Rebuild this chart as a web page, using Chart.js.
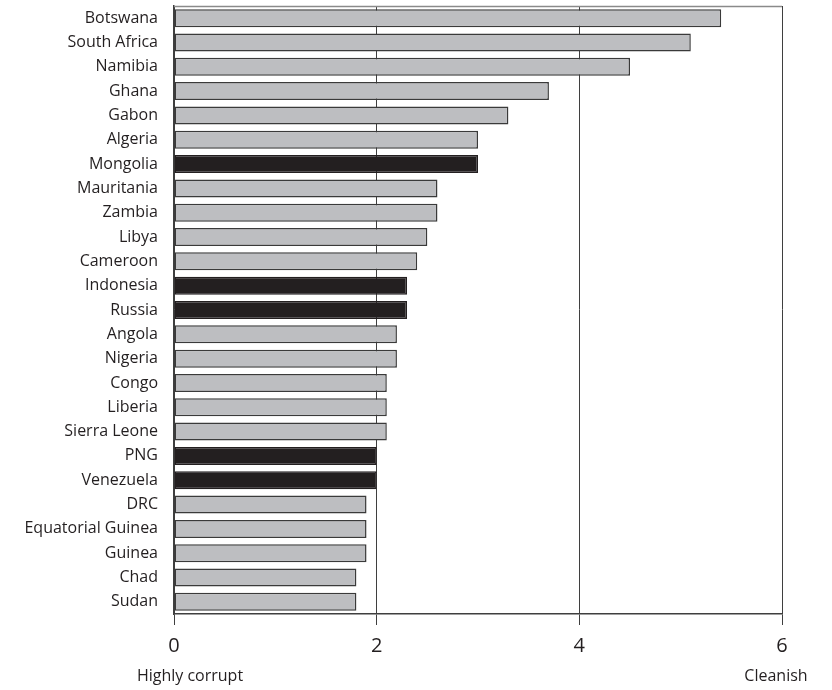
<!DOCTYPE html>
<html>
<head>
<meta charset="utf-8">
<script src="https://cdn.jsdelivr.net/npm/chart.js@4"></script>
<style>
  body { margin: 0; background: #fff; }
  #wrap { width: 832px; height: 690px; }
</style>
</head>
<body>
<div id="wrap"><canvas id="myChart"></canvas></div>
<script>
const countries = ['Botswana', 'South Africa', 'Namibia', 'Ghana', 'Gabon', 'Algeria', 'Mongolia',
  'Mauritania', 'Zambia', 'Libya', 'Cameroon', 'Indonesia', 'Russia', 'Angola', 'Nigeria', 'Congo',
  'Liberia', 'Sierra Leone', 'PNG', 'Venezuela', 'DRC', 'Equatorial Guinea', 'Guinea', 'Chad', 'Sudan']
const scores = [5.4, 5.1, 4.5, 3.7, 3.3, 3.0, 3.0, 2.6, 2.6, 2.5, 2.4, 2.3, 2.3, 2.2, 2.2, 2.1,
  2.1, 2.1, 2.0, 2.0, 1.9, 1.9, 1.9, 1.8, 1.8]
const highlighted = ['Mongolia', 'Indonesia', 'Russia', 'PNG', 'Venezuela']
const xTicks = [0, 2, 4, 6]
const endLabels = ['Highly corrupt', 'Cleanish']

const ink = '#231f20'
const fills = countries.map(c => highlighted.includes(c) ? ink : '#bdbec1')
const edges = countries.map(c => highlighted.includes(c) ? ink : '#3a3a3a')

// the top frame line and the two end captions under the x axis
const frame = {
  id: 'frame',
  afterDraw (chart) {
    const { ctx, chartArea, scales } = chart
    ctx.save()
    ctx.strokeStyle = '#8a8a8a'
    ctx.lineWidth = 1.5
    ctx.beginPath()
    ctx.moveTo(chartArea.left, chartArea.top + 0.5)
    ctx.lineTo(chartArea.right, chartArea.top + 0.5)
    ctx.stroke()
    ctx.fillStyle = ink
    ctx.font = '16px "Open Sans"'
    ctx.textAlign = 'center'
    ctx.textBaseline = 'middle'
    ctx.fillText(endLabels[0], scales.x.getPixelForValue(0) + 16, 676)
    ctx.fillText(endLabels[1], scales.x.getPixelForValue(6) - 6, 676)
    ctx.restore()
  }
}

new Chart(document.getElementById('myChart'), {
  type: 'bar',
  data: {
    labels: countries,
    datasets: [{
      data: scores,
      backgroundColor: fills,
      borderColor: edges,
      borderWidth: 1.5,
      borderSkipped: false,
      barPercentage: 0.74,
      categoryPercentage: 1
    }]
  },
  options: {
    indexAxis: 'y',
    responsive: true,
    maintainAspectRatio: false,
    animation: false,
    layout: { padding: { top: 6, right: 50, bottom: 0, left: 0 } },
    plugins: { legend: { display: false }, tooltip: { enabled: false } },
    scales: {
      x: {
        min: 0,
        max: 6,
        afterBuildTicks: (s) => { s.ticks = xTicks.map(v => ({ value: v })) },
        afterFit: (s) => { s.height = 76 },
        grid: { color: '#3f3f3f', lineWidth: 1, tickLength: 11, drawOnChartArea: true },
        border: { color: '#3f3f3f', width: 1.5 },
        ticks: { color: ink, padding: 9, font: { family: 'Open Sans', size: 20 } }
      },
      y: {
        afterFit: (s) => { s.width = 174; s.paddingTop = 0; s.paddingBottom = 0 },
        grid: { display: false },
        border: { color: '#3f3f3f', width: 1.5 },
        ticks: { color: ink, padding: 8, autoSkip: false, font: { family: 'Open Sans', size: 16 } }
      }
    }
  },
  plugins: [frame]
})
</script>
</body>
</html>
